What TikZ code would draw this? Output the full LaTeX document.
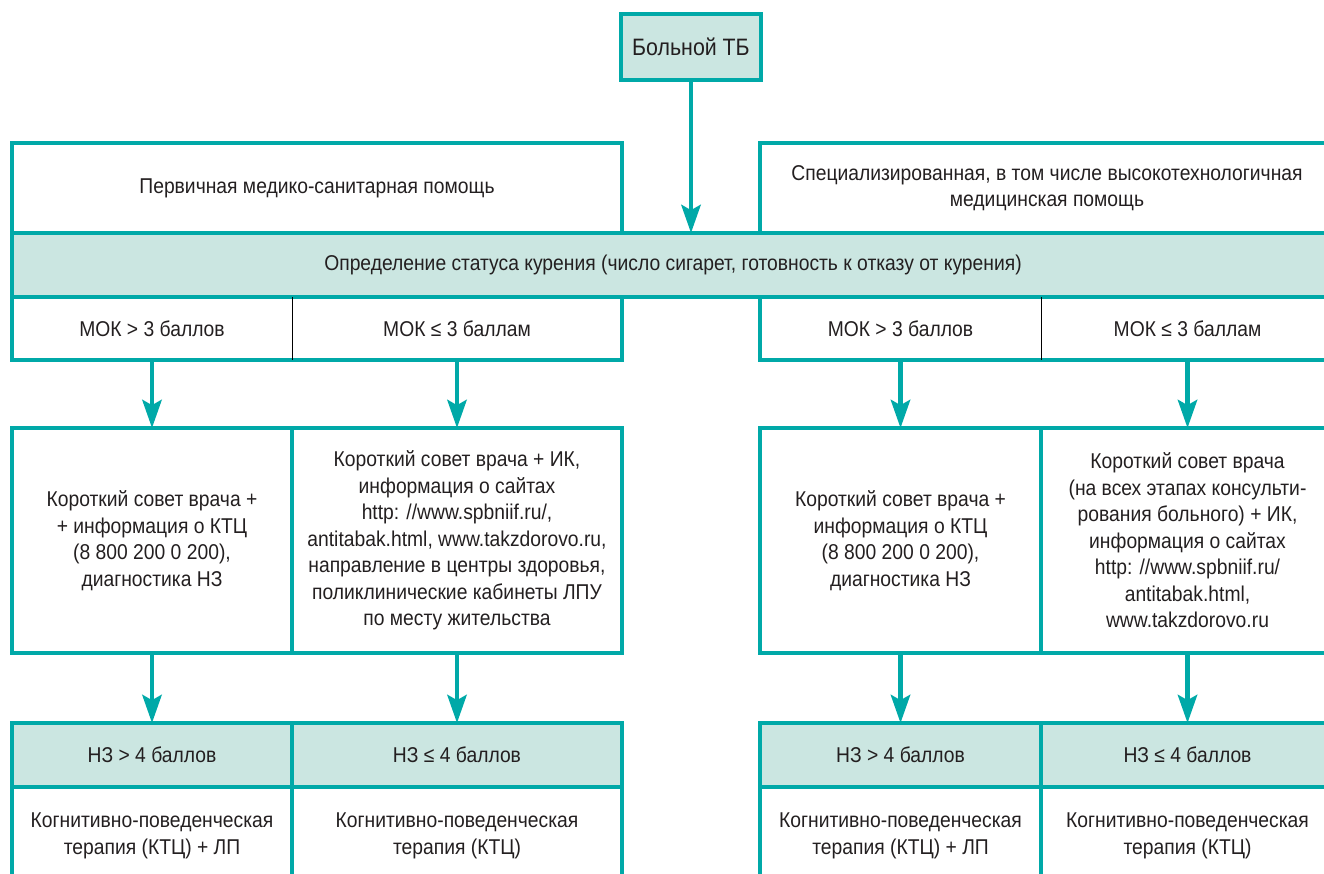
\documentclass[tikz,border=0pt]{standalone}
\usepackage{fontspec}
\setmainfont[FakeStretch=0.9]{Liberation Sans}
\usetikzlibrary{arrows.meta, positioning}
\definecolor{tbteal}{RGB}{0,169,168}
\definecolor{tblight}{RGB}{203,230,225}
\definecolor{tbtext}{RGB}{35,31,32}
\newcommand{\pu}{0.02cm}
\tikzset{
  cell/.style={rectangle,inner sep=0pt,outer sep=0pt,align=center,text=tbtext,font=\fontsize{12.2}{15.1}\selectfont},
  box/.style={cell,draw=tbteal,line width=2.2pt},
  shaded/.style={box,fill=tblight},
  frameline/.style={draw=tbteal,line width=2.2pt},
  divline/.style={draw=black,line width=0.5pt},
  flow/.style={draw=tbteal,line width=2.5pt,-{Stealth[length=16pt,width=11pt,inset=3pt]}},
}
\begin{document}
\begin{tikzpicture}[x=\pu,y=-\pu]
  \useasboundingbox (0,0) rectangle (1324,874);
  \clip (0,0) rectangle (1324,874);
  % top
  \node[shaded,line width=1.8pt,font=\fontsize{13.5}{16}\selectfont,minimum width=140*\pu,minimum height=66*\pu] (patient) at (691,47) {Больной ТБ};
  \node[box,minimum width=610*\pu,minimum height=90*\pu] (primary) at (317,188) {Первичная медико-санитарная помощь};
  \node[box,minimum width=574*\pu,minimum height=90*\pu] (special) at (1047,188) {Специализированная, в том числе высокотехнологичная\\медицинская помощь};
  \node[shaded,minimum width=1322*\pu,minimum height=64*\pu] (status) at (673,265) {Определение статуса курения (число сигарет, готовность к отказу от курения)};
  % MOK row
  \node[cell,minimum width=280*\pu,minimum height=63*\pu] (mokA) at (152,328.5) {МОК > 3 баллов};
  \node[cell,minimum width=330*\pu,minimum height=63*\pu,right=0pt of mokA] (mokB) {МОК ≤ 3 баллам};
  \node[cell,minimum width=281*\pu,minimum height=63*\pu] (mokC) at (900.5,328.5) {МОК > 3 баллов};
  \node[cell,minimum width=293*\pu,minimum height=63*\pu,right=0pt of mokC] (mokD) {МОК ≤ 3 баллам};
  \draw[frameline] (mokA.north west) rectangle (mokB.south east);
  \draw[frameline] (mokC.north west) rectangle (mokD.south east);
  \draw[divline] (mokA.north east) -- (mokA.south east);
  \draw[divline] (mokC.north east) -- (mokC.south east);
  % advice row
  \node[box,minimum width=280*\pu,minimum height=225*\pu] (adviceA) at (152,540.5) {Короткий совет врача +\\+ информация о КТЦ\\(8 800 200 0 200),\\диагностика НЗ};
  \node[box,minimum width=330*\pu,minimum height=225*\pu,right=0pt of adviceA] (adviceB) {Короткий совет врача + ИК,\\информация о сайтах\\http: //www.spbniif.ru/,\\antitabak.html, www.takzdorovo.ru,\\направление в центры здоровья,\\поликлинические кабинеты ЛПУ\\по месту жительства};
  \node[box,minimum width=281*\pu,minimum height=225*\pu] (adviceC) at (900.5,540.5) {Короткий совет врача +\\информация о КТЦ\\(8 800 200 0 200),\\диагностика НЗ};
  \node[box,minimum width=293*\pu,minimum height=225*\pu,right=0pt of adviceC] (adviceD) {Короткий совет врача\\(на всех этапах консульти-\\рования больного) + ИК,\\информация о сайтах\\http: //www.spbniif.ru/\\antitabak.html,\\www.takzdorovo.ru};
  % NZ row
  \node[shaded,minimum width=280*\pu,minimum height=64*\pu] (nzA) at (152,755) {НЗ > 4 баллов};
  \node[shaded,minimum width=330*\pu,minimum height=64*\pu,right=0pt of nzA] (nzB) {НЗ ≤ 4 баллов};
  \node[shaded,minimum width=281*\pu,minimum height=64*\pu] (nzC) at (900.5,755) {НЗ > 4 баллов};
  \node[shaded,minimum width=293*\pu,minimum height=64*\pu,right=0pt of nzC] (nzD) {НЗ ≤ 4 баллов};
  \node[box,minimum width=280*\pu,minimum height=98*\pu,below=0pt of nzA] (therA) {Когнитивно-поведенческая\\терапия (КТЦ) + ЛП};
  \node[box,minimum width=330*\pu,minimum height=98*\pu,below=0pt of nzB] (therB) {Когнитивно-поведенческая\\терапия (КТЦ)};
  \node[box,minimum width=281*\pu,minimum height=98*\pu,below=0pt of nzC] (therC) {Когнитивно-поведенческая\\терапия (КТЦ) + ЛП};
  \node[box,minimum width=293*\pu,minimum height=98*\pu,below=0pt of nzD] (therD) {Когнитивно-поведенческая\\терапия (КТЦ)};
  % arrows
  \draw[flow] (patient.south) -- (patient.south |- status.north);
  \foreach \col in {A,B,C,D} {
    \draw[flow] (mok\col.south) -- (advice\col.north);
    \draw[flow] (advice\col.south) -- (nz\col.north);
  }
\end{tikzpicture}
\end{document}
